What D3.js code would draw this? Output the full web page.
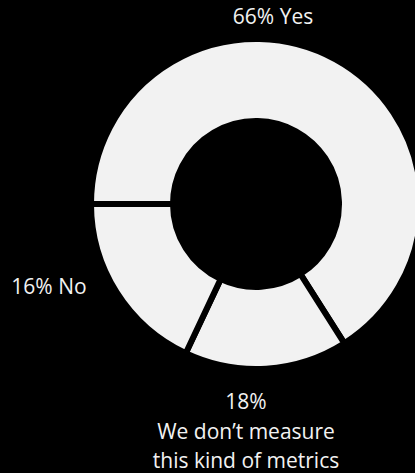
<!DOCTYPE html>
<html>
<head>
<meta charset="utf-8">
<script src="https://cdn.jsdelivr.net/npm/d3@7"></script>
<style>
  html, body { margin: 0; padding: 0; background: #000; }
  svg { display: block; }
</style>
</head>
<body>
<svg id="chart" width="415" height="473"></svg>
<script>
// Survey answers, in drawing order (clockwise from 9 o'clock)
const categories = ["Yes", "No", "We don’t measure this kind of metrics"];
const values = [66, 16, 18];
// Text shown for each answer, one entry per line
const labelLines = [
  ["66% Yes"],
  ["16% No"],
  ["18%", "We don’t measure", "this kind of metrics"]
];

// Label anchors, relative to the donut centre
const labelLayout = [
  { dx: 17, dy: -180 },
  { dx: -207, dy: 90 },
  { dx: -10, dy: 205 }
];

const width = 415, height = 473;
const cx = 256, cy = 204;
const outerR = 165, innerR = 83;
const gap = 6;
const fillColor = "#f2f2f2";

const svg = d3.select("#chart");
svg.append("rect").attr("width", width).attr("height", height).attr("fill", "#000");

const data = categories.map((c, i) => ({ category: c, value: values[i], lines: labelLines[i], layout: labelLayout[i] }));

const pie = d3.pie()
  .value(d => d.value)
  .sort(null)
  .startAngle(-Math.PI / 2)
  .endAngle(Math.PI * 1.5);

const arc = d3.arc().innerRadius(innerR).outerRadius(outerR);

const g = svg.append("g").attr("transform", `translate(${cx},${cy})`);

g.selectAll("path.slice")
  .data(pie(data))
  .join("path")
  .attr("class", "slice")
  .attr("d", arc)
  .attr("fill", fillColor)
  .attr("stroke", "#000")
  .attr("stroke-width", gap)
  .attr("stroke-linejoin", "miter");

const lineHeight = 29.5;
const labels = g.selectAll("text.label")
  .data(data)
  .join("text")
  .attr("class", "label")
  .attr("x", d => d.layout.dx)
  .attr("y", d => d.layout.dy)
  .attr("text-anchor", "middle")
  .attr("fill", fillColor)
  .style("font-family", "'Open Sans', sans-serif")
  .style("font-size", "21px");

labels.selectAll("tspan")
  .data(d => d.lines.map((t, i) => ({ t, i, x: d.layout.dx })))
  .join("tspan")
  .attr("x", d => d.x)
  .attr("dy", d => d.i === 0 ? 0 : lineHeight)
  .text(d => d.t);
</script>
</body>
</html>
